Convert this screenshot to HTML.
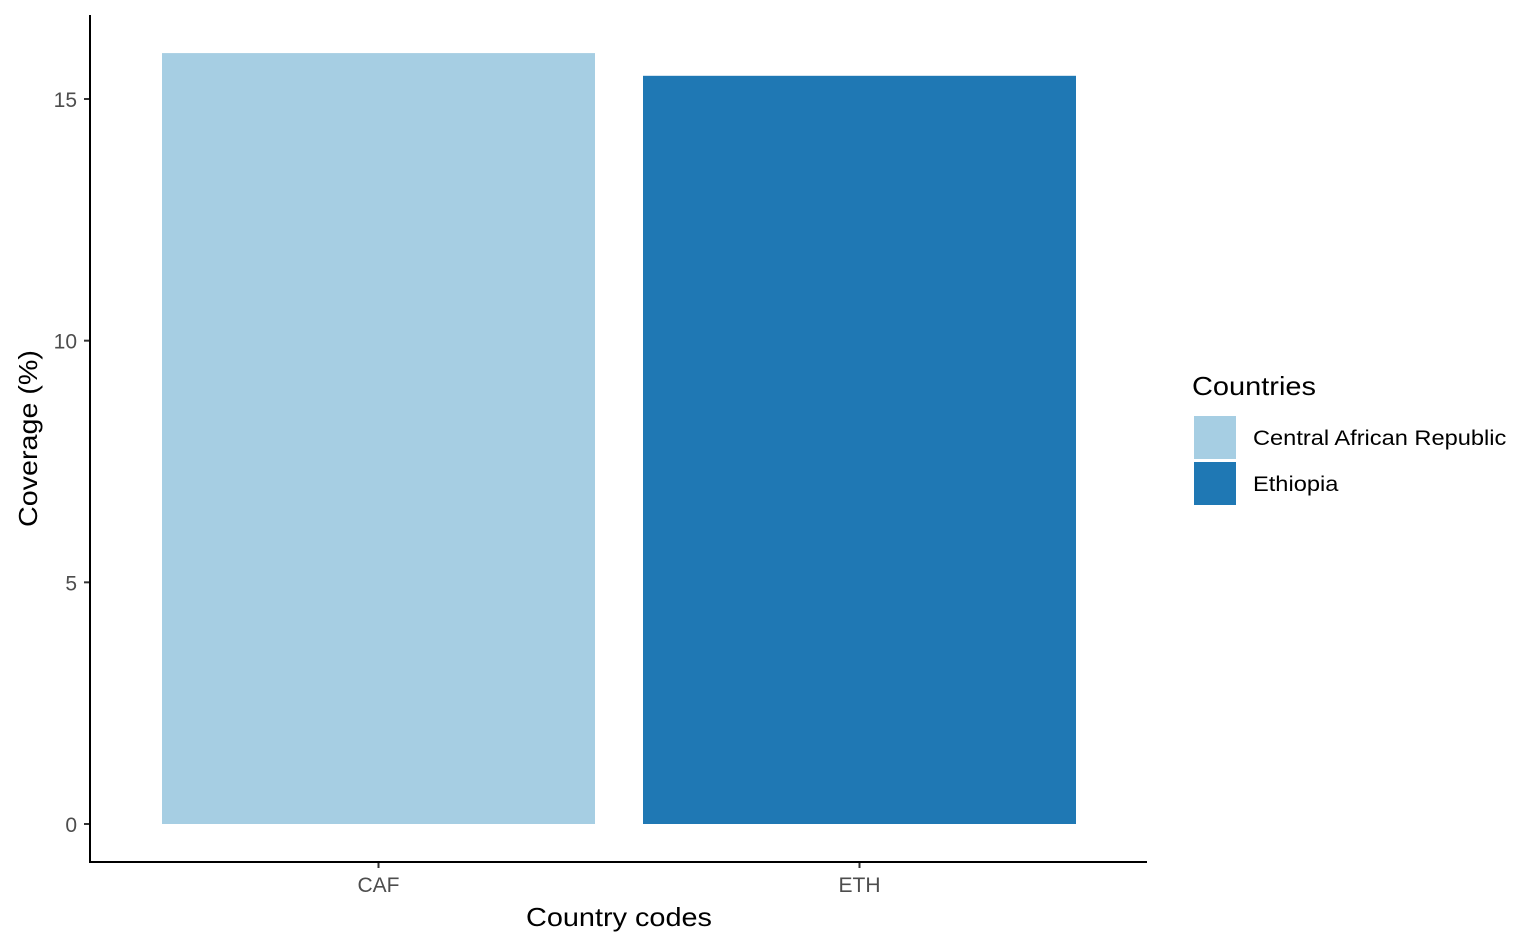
<!DOCTYPE html>
<html><head><meta charset="utf-8"><style>
body{margin:0;background:#fff;}
svg{display:block;font-family:"Liberation Sans",sans-serif;}
</style></head><body>
<svg id="chart" width="1536" height="949">
<g id="bars"></g>
<g id="yticks"></g>
<g id="xticks"></g>
<line x1="90" y1="15" x2="90" y2="862" stroke="#000" stroke-width="2"/>
<line x1="89" y1="862" x2="1147" y2="862" stroke="#000" stroke-width="2"/>
<text x="526" y="926" font-size="26" textLength="186" lengthAdjust="spacingAndGlyphs">Country codes</text>
<text transform="translate(37,527) rotate(-90)" font-size="26" textLength="177" lengthAdjust="spacingAndGlyphs">Coverage (%)</text>
<g>
<text x="1192" y="395" font-size="26" textLength="124" lengthAdjust="spacingAndGlyphs">Countries</text>
<g id="legend"></g>
</g>
</svg>
<script>
const categories = ["CAF", "ETH"];
const names = ["Central African Republic", "Ethiopia"];
const values = [15.95, 15.48];
const colors = ["#a6cee3", "#1f78b4"];
const yTicks = [0, 5, 10, 15];
const NS = "http://www.w3.org/2000/svg";
const y = v => 824 - v * 48.333;
const bandStart = 162, bandStep = 481, barW = 433;
const x = i => bandStart + i * bandStep;
const legendScale = 253 / 225;
function mk(tag, attrs, parent){const e=document.createElementNS(NS,tag);for(const k in attrs)e.setAttribute(k,attrs[k]);parent.appendChild(e);return e;}
const bars=document.getElementById('bars'), yt=document.getElementById('yticks'), xt=document.getElementById('xticks'), lg=document.getElementById('legend');
categories.forEach((c,i)=>{
  const r=mk('rect',{x:x(i),y:y(values[i]),width:barW,height:y(0)-y(values[i]),fill:colors[i]},bars);
  
  
  const cx=x(i)+barW/2;
  const tl=mk('line',{x1:cx,x2:cx,y1:862,y2:868,stroke:'#333','stroke-width':2},xt);
  
  
  const t=mk('text',{x:cx,y:892,'font-size':21,fill:'#4d4d4d','text-anchor':'middle'},xt);
  t.textContent=c;
  
  
  const sw=mk('rect',{x:1194,y:416+i*46,width:42,height:43,fill:colors[i]},lg);
  
  
  const lt=mk('text',{x:1253,y:445+i*46,'font-size':21},lg);
  lt.textContent=names[i];
  
  
  const w=lt.getComputedTextLength();
  lt.setAttribute('textLength', w*legendScale);
  lt.setAttribute('lengthAdjust','spacingAndGlyphs');
});
yTicks.forEach(v=>{
  const l=mk('line',{x1:84,x2:90,y1:y(v),y2:y(v),stroke:'#333','stroke-width':2},yt);
  
  
  const t=mk('text',{x:77,y:y(v)+8,'font-size':21,fill:'#4d4d4d','text-anchor':'end'},yt);
  t.textContent=v;
  
  
});
</script>
</body></html>
